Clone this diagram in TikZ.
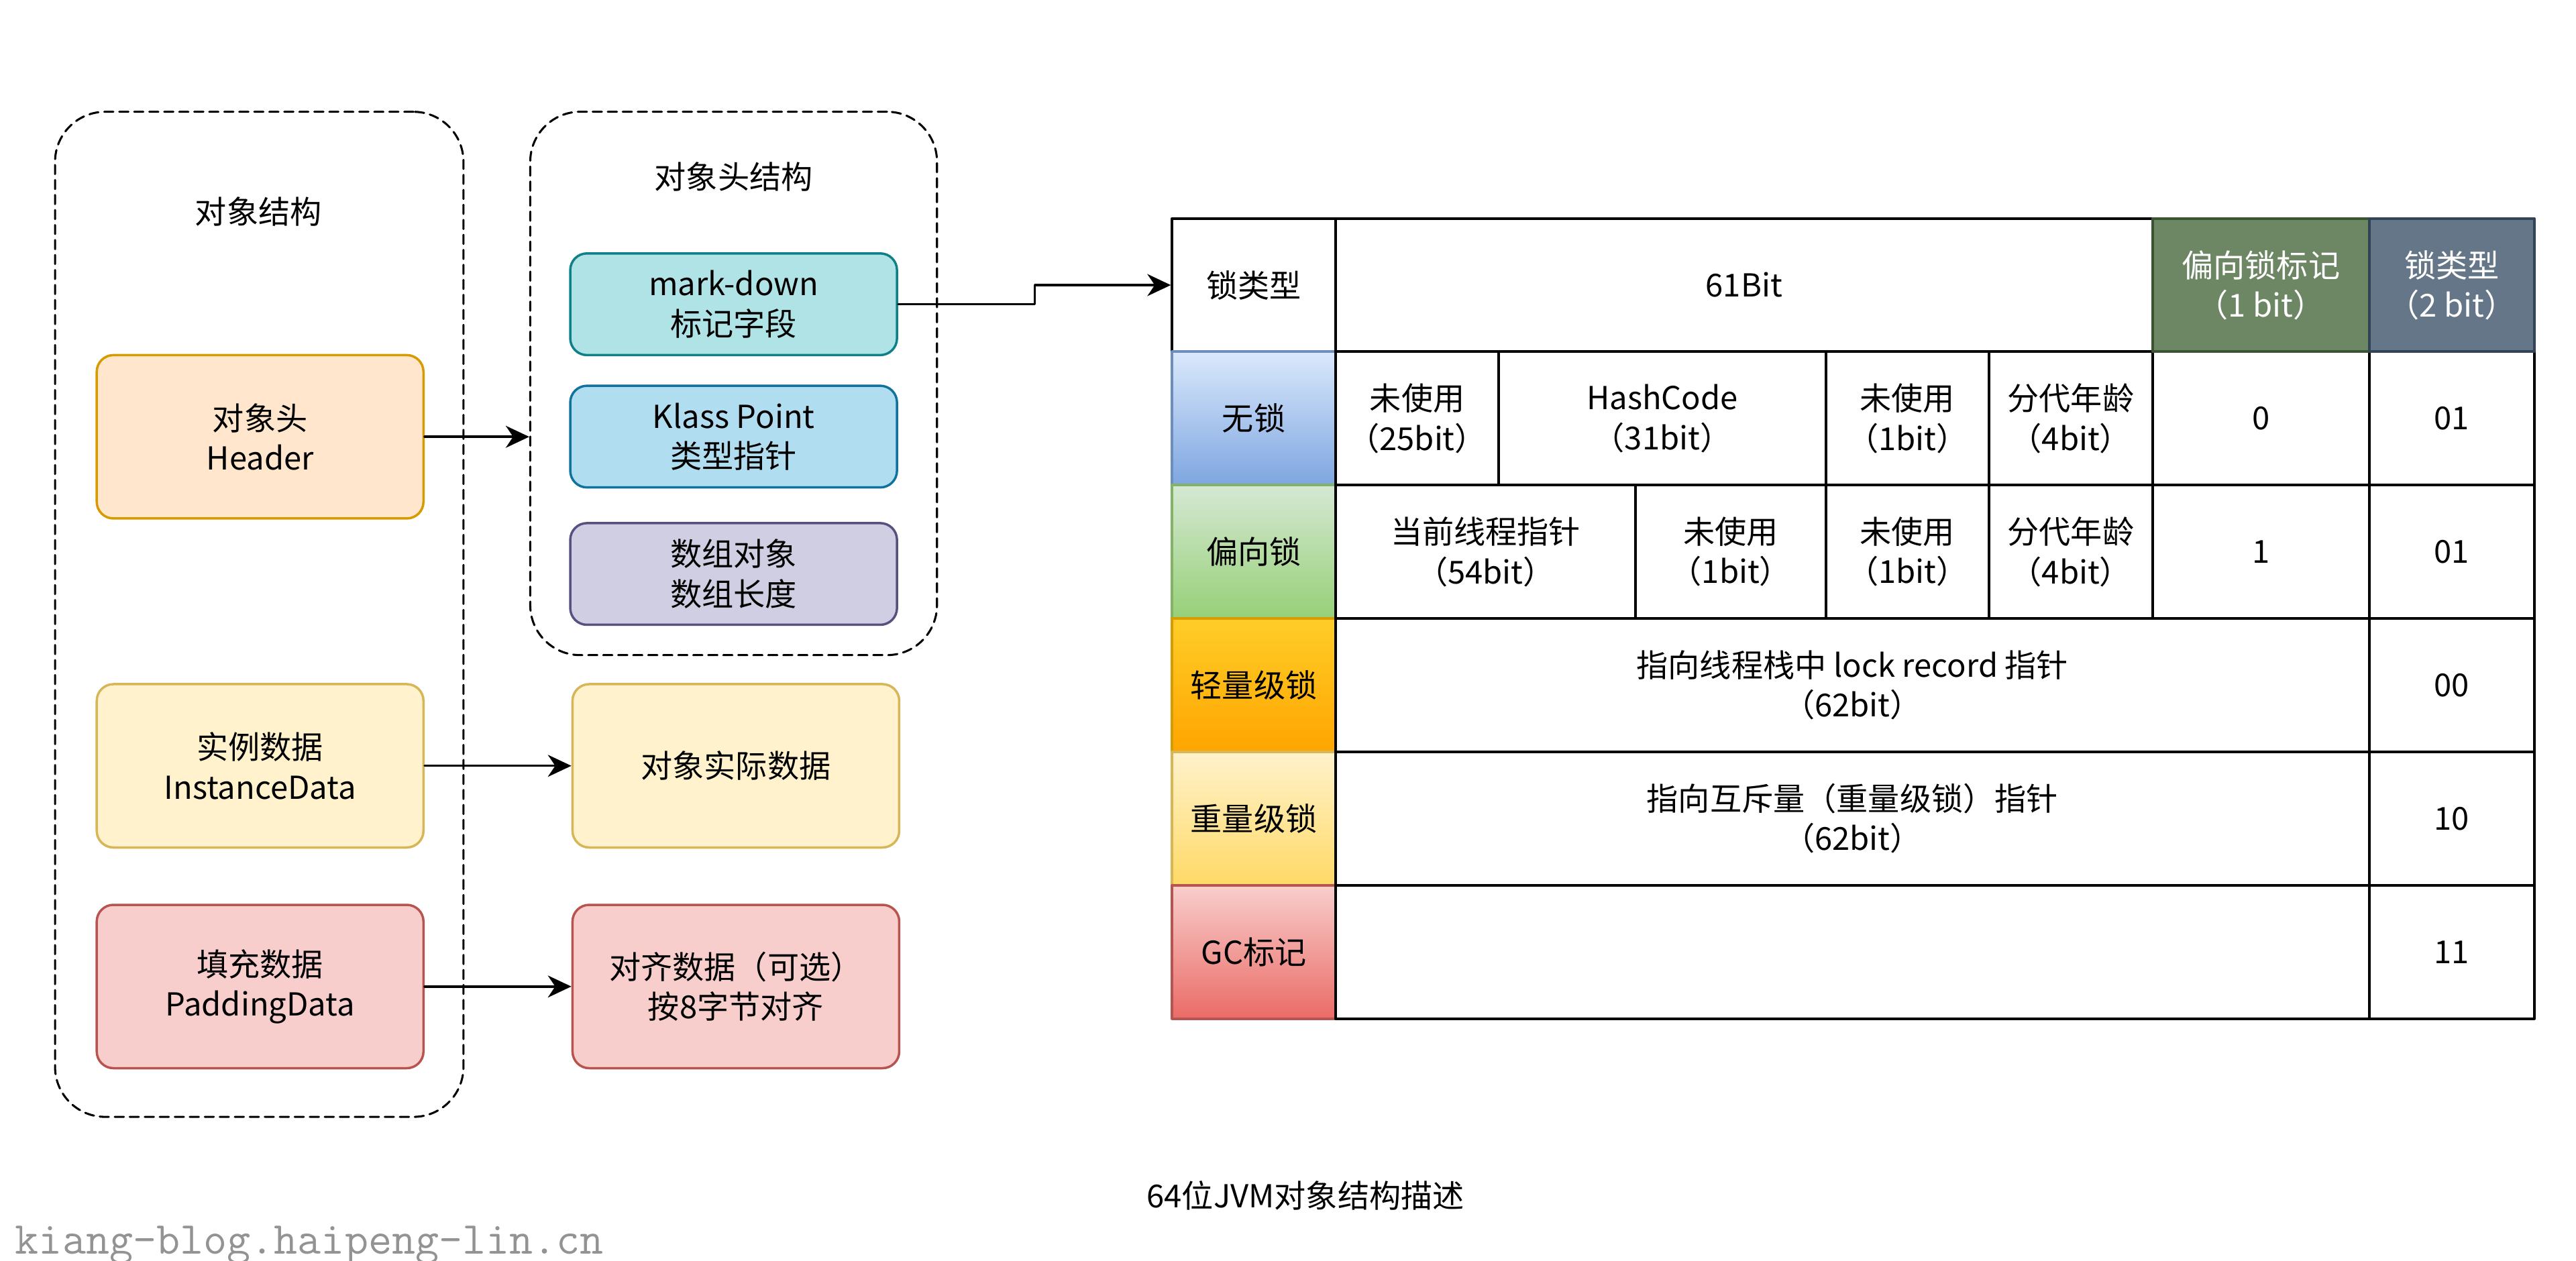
\documentclass[tikz,border=0pt]{standalone}
\usepackage{fontspec}
\setmainfont{Noto Sans CJK SC}
\usetikzlibrary{arrows.meta}
\usetikzlibrary{positioning}

\definecolor{hdFill}{HTML}{FFE6CC}\definecolor{hdLine}{HTML}{D79B00}
\definecolor{inFill}{HTML}{FFF2CC}\definecolor{inLine}{HTML}{D6B656}
\definecolor{pdFill}{HTML}{F8CECC}\definecolor{pdLine}{HTML}{B85450}
\definecolor{mkFill}{HTML}{B0E3E6}\definecolor{mkLine}{HTML}{0E8088}
\definecolor{ksFill}{HTML}{B1DDF0}\definecolor{ksLine}{HTML}{10739E}
\definecolor{arFill}{HTML}{D0CEE2}\definecolor{arLine}{HTML}{56517E}
\definecolor{bfFill}{HTML}{6D8764}\definecolor{bfLine}{HTML}{3A5431}
\definecolor{ltFill}{HTML}{647687}\definecolor{ltLine}{HTML}{314354}
\definecolor{nlTop}{HTML}{DAE8FC}\definecolor{nlBot}{HTML}{7EA6E0}\definecolor{nlLine}{HTML}{6C8EBF}
\definecolor{bsTop}{HTML}{D5E8D4}\definecolor{bsBot}{HTML}{97D077}\definecolor{bsLine}{HTML}{82B366}
\definecolor{lwTop}{HTML}{FFCD28}\definecolor{lwBot}{HTML}{FFA500}\definecolor{lwLine}{HTML}{D79B00}
\definecolor{hvTop}{HTML}{FFF2CC}\definecolor{hvBot}{HTML}{FFD966}\definecolor{hvLine}{HTML}{D6B656}
\definecolor{gcTop}{HTML}{F8CECC}\definecolor{gcBot}{HTML}{EA6B66}\definecolor{gcLine}{HTML}{B85450}

\tikzset{
  rbox/.style={draw, rounded corners=0.2cm, line width=0.8pt, align=center,
    minimum width=3.92cm, inner sep=2pt},
  grp/.style={draw, dash pattern=on 0.11cm off 0.07cm, rounded corners=0.6cm,
    line width=0.7pt},
  cell/.style={draw, line width=0.9pt, align=center, inner sep=0pt},
}

\begin{document}
\begin{tikzpicture}[line cap=round,line join=round,
>={Stealth[length=8pt,width=7.5pt,inset=2.5pt]},x=0.02cm,y=-0.02cm,
font=\fontsize{10.8}{13.6}\selectfont]
\useasboundingbox (0,0) rectangle (1545,756.4);
% two dashed groups
\node[grp, minimum width=4.9cm, minimum height=12.06cm] (objbox) at (155.5,368.5) {};
\node[grp, minimum width=4.88cm, minimum height=6.52cm] (headbox) at (440,230) {};
\node (objtitle) at (155,127) {对象结构};
\node (headtitle) at (440,106) {对象头结构};
% object structure
\node[rbox, fill=hdFill, draw=hdLine, minimum height=1.96cm] (header) at (156,262) {对象头\\Header};
\node[rbox, fill=inFill, draw=inLine, minimum height=1.96cm, below=1.96cm of header] (instance) {实例数据\\InstanceData};
\node[rbox, fill=pdFill, draw=pdLine, minimum height=1.96cm, below=0.66cm of instance] (padding) {填充数据\\PaddingData};
% header structure
\node[rbox, fill=mkFill, draw=mkLine, minimum height=1.22cm] (mark) at (440,182.5) {mark-down\\标记字段};
\node[rbox, fill=ksFill, draw=ksLine, minimum height=1.22cm, below=0.34cm of mark] (klass) {Klass Point\\类型指针};
\node[rbox, fill=arFill, draw=arLine, minimum height=1.22cm, below=0.4cm of klass] (arrlen) {数组对象\\数组长度};
\node[rbox, fill=inFill, draw=inLine, minimum height=1.96cm, right=1.76cm of instance] (realdata) {对象实际数据};
\node[rbox, fill=pdFill, draw=pdLine, minimum height=1.96cm, right=1.76cm of padding] (aligndata) {对齐数据（可选）\\按8字节对齐};
% arrows
\draw[->, line width=0.8pt] (header.east) -- (header.east -| headbox.west);
\draw[->, line width=0.8pt] (instance) -- (realdata);
\draw[->, line width=0.8pt] (padding) -- (aligndata);
% mark word table
\node[cell, minimum width=1.96cm, minimum height=1.6cm] (lockhd) at (752,171) {锁类型};
\foreach \nm/\ya/\yb/\ct/\cb/\cd/\txt in {
  nolock/211/291/nlTop/nlBot/nlLine/无锁,
  biased/291/371/bsTop/bsBot/bsLine/偏向锁,
  light/371/451/lwTop/lwBot/lwLine/轻量级锁,
  heavy/451/531/hvTop/hvBot/hvLine/重量级锁,
  gcmark/531/611/gcTop/gcBot/gcLine/GC标记}
\node[cell, top color=\ct, bottom color=\cb, draw=\cd, minimum width=1.96cm,
  minimum height=1.6cm] (\nm) at (752,{(\ya+\yb)/2}) {\txt};
\foreach \nm/\xa/\xb/\ya/\yb/\txt in {
  bits/801/1291/131/211/{61Bit},
  n1/801/899/211/291/{未使用\\（25bit）},
  n2/899/1095/211/291/{HashCode\\（31bit）},
  n3/1095/1193/211/291/{未使用\\（1bit）},
  n4/1193/1291/211/291/{分代年龄\\（4bit）},
  n5/1291/1421/211/291/{0},
  n6/1421/1520/211/291/{01},
  b1/801/981/291/371/{当前线程指针\\（54bit）},
  b2/981/1095/291/371/{未使用\\（1bit）},
  b3/1095/1193/291/371/{未使用\\（1bit）},
  b4/1193/1291/291/371/{分代年龄\\（4bit）},
  b5/1291/1421/291/371/{1},
  b6/1421/1520/291/371/{01},
  l1/801/1421/371/451/{指向线程栈中 lock record 指针\\（62bit）},
  l2/1421/1520/371/451/{00},
  h1/801/1421/451/531/{指向互斥量（重量级锁）指针\\（62bit）},
  h2/1421/1520/451/531/{10},
  g1/801/1421/531/611/{},
  g2/1421/1520/531/611/{11}}
\node[cell, minimum width={(\xb-\xa)*0.02cm}, minimum height={(\yb-\ya)*0.02cm}]
  (\nm) at ({(\xa+\xb)/2},{(\ya+\yb)/2}) {\txt};
\node[cell, fill=bfFill, draw=bfLine, text=white, minimum width=2.6cm,
  minimum height=1.6cm] (biasflag) at (1356,171) {偏向锁标记\\（1 bit）};
\node[cell, fill=ltFill, draw=ltLine, text=white, minimum width=1.98cm,
  minimum height=1.6cm] (locktype) at (1470.5,171) {锁类型\\（2 bit）};
\draw[->, line width=0.8pt] (mark.east) -- ++(82,0) |- (lockhd.west);
% caption and watermark
\node (caption) at (783,717) {64位JVM对象结构描述};
\node[anchor=west, text=gray!85, font=\ttfamily\fontsize{15.6}{18}\selectfont] (mark2) at (3,747) {kiang-blog.haipeng-lin.cn};
\end{tikzpicture}
\end{document}
